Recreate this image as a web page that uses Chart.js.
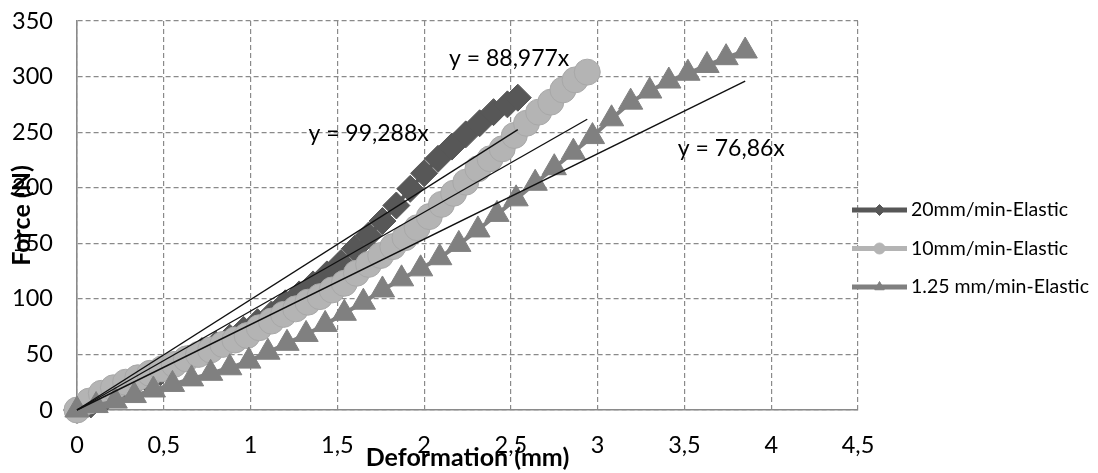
<!DOCTYPE html>
<html>
<head>
<meta charset="utf-8">
<script src="https://cdn.jsdelivr.net/npm/chart.js@4.4.1/dist/chart.umd.min.js"></script>
<style>
  html, body { margin: 0; padding: 0; background: #fff; }
  canvas { display: block; }
</style>
</head>
<body>
<canvas id="chart" width="1098" height="473"></canvas>
<script>
// series names, as in the legend
const seriesNames = ['20mm/min-Elastic', '10mm/min-Elastic', '1.25 mm/min-Elastic'];

// 20mm/min (dark diamonds)
const def20 = [0, 0.08, 0.16, 0.24, 0.32, 0.40, 0.48, 0.56, 0.64, 0.72, 0.80, 0.88, 0.96, 1.04, 1.12, 1.20, 1.28, 1.36, 1.44, 1.52, 1.60, 1.68, 1.76, 1.84, 1.92, 2.00, 2.08, 2.16, 2.24, 2.32, 2.40, 2.48, 2.54];
const force20 = [0, 5, 10, 16, 22, 28, 34, 40, 46, 53, 59, 65, 72, 79, 86, 96, 104, 113, 122, 132, 145, 157, 170, 184, 199, 213, 226, 237, 248, 258, 268, 275, 281];

// 10mm/min (light circles)
const def10 = [0, 0.07, 0.14, 0.21, 0.28, 0.35, 0.42, 0.49, 0.56, 0.63, 0.70, 0.77, 0.84, 0.91, 0.98, 1.05, 1.12, 1.19, 1.26, 1.33, 1.40, 1.47, 1.54, 1.61, 1.68, 1.75, 1.82, 1.89, 1.96, 2.03, 2.10, 2.17, 2.24, 2.31, 2.38, 2.45, 2.52, 2.59, 2.66, 2.73, 2.80, 2.87, 2.94];
const force10 = [0, 8, 15, 20, 25, 29, 33, 37, 41, 46, 50, 54, 59, 63, 67, 74, 80, 86, 91, 97, 102, 108, 114, 123, 131, 139, 147, 155, 164, 174, 185, 195, 205, 217, 226, 235, 247, 258, 268, 277, 288, 297, 304];

// 1.25 mm/min (mid grey triangles)
const def125 = [0, 0.11, 0.22, 0.33, 0.44, 0.55, 0.66, 0.77, 0.88, 0.99, 1.10, 1.21, 1.32, 1.43, 1.54, 1.65, 1.76, 1.87, 1.98, 2.09, 2.20, 2.31, 2.42, 2.53, 2.64, 2.75, 2.86, 2.97, 3.08, 3.19, 3.30, 3.41, 3.52, 3.63, 3.74, 3.85];
const force125 = [0, 4, 8, 13, 18, 23, 28, 33, 38, 44, 52, 60, 68, 77, 87, 97, 108, 118, 127, 137, 149, 162, 176, 190, 204, 218, 232, 246, 262, 277, 287, 296, 303, 310, 317, 323];

// linear trendlines through the origin
const trendSlopes = [99.288, 88.977, 76.86];
const trendLabels = ['y = 99,288x', 'y = 88,977x', 'y = 76,86x'];
const trendLabelX = [1.68, 2.49, 3.77];
const trendLabelY = [249, 316, 235];

// axes
const xTicks = [0, 0.5, 1, 1.5, 2, 2.5, 3, 3.5, 4, 4.5];
const xTickLabels = ['0', '0,5', '1', '1,5', '2', '2,5', '3', '3,5', '4', '4,5'];
const yTicks = [0, 50, 100, 150, 200, 250, 300, 350];

const colors = ['#575757', '#b4b4b4', '#808080'];
const styles = ['rectRot', 'circle', 'triangle'];
const radii = [13.5, 13, 14];

function toPoints(xs, ys) {
    return xs.map((x, i) => ({ x: x, y: ys[i] }));
}

const series = [toPoints(def20, force20), toPoints(def10, force10), toPoints(def125, force125)];

const datasets = [];
series.forEach((pts, i) => {
    datasets.push({
        label: seriesNames[i],
        data: pts,
        showLine: true,
        borderColor: colors[i],
        borderWidth: 4,
        backgroundColor: colors[i],
        pointStyle: styles[i],
        pointRadius: radii[i],
        pointBackgroundColor: colors[i],
        pointBorderColor: i == 1 ? '#a8a8a8' : colors[i],
        pointBorderWidth: 1,
        clip: false,
        order: 3 - i
    });
});
// trendlines on top
series.forEach((pts, i) => {
    const xEnd = pts[pts.length - 1].x;
    datasets.push({
        label: 'trend ' + i,
        data: [{ x: 0, y: 0 }, { x: xEnd, y: trendSlopes[i] * xEnd }],
        showLine: true,
        borderColor: '#111',
        borderWidth: 1.4,
        pointRadius: 0,
        clip: false,
        order: 0
    });
});

// trendline equations and legend
const overlay = {
    id: 'overlay',
    afterDatasetsDraw(chart) {
        const ctx = chart.ctx;
        const xs = chart.scales.x;
        const ys = chart.scales.y;
        ctx.save();
        ctx.fillStyle = '#000';
        ctx.font = '23px Lato';
        ctx.textAlign = 'center';
        ctx.textBaseline = 'middle';
        trendLabels.forEach((t, i) => {
            ctx.fillText(t, xs.getPixelForValue(trendLabelX[i]), ys.getPixelForValue(trendLabelY[i]));
        });

        // legend on the right
        const legendY = [210, 248.5, 287];
        seriesNames.forEach((name, i) => {
            const y = legendY[i];
            ctx.strokeStyle = colors[i];
            ctx.lineWidth = 5;
            ctx.beginPath();
            ctx.moveTo(852, y);
            ctx.lineTo(907, y);
            ctx.stroke();
            ctx.fillStyle = colors[i];
            ctx.strokeStyle = colors[i];
            ctx.lineWidth = 1;
            Chart.helpers.drawPoint(ctx, { pointStyle: styles[i], radius: 5.5, rotation: 0, borderWidth: 1 }, 879.5, y);
            ctx.fillStyle = '#000';
            ctx.font = '19.5px Lato';
            ctx.textAlign = 'left';
            ctx.fillText(name, 911, y);
        });
        ctx.restore();
    }
};

function draw() {
    const ctx = document.getElementById('chart').getContext('2d');
    new Chart(ctx, {
        type: 'scatter',
        data: { datasets: datasets },
        options: {
            responsive: false,
            animation: false,
            layout: { padding: { top: 21, right: 240, left: 0, bottom: 0 } },
            plugins: {
                legend: { display: false },
                tooltip: { enabled: false }
            },
            scales: {
                x: {
                    type: 'linear',
                    min: 0,
                    max: 4.5,
                    afterFit: function (scale) {
                        scale.height = 63;
                        scale.paddingLeft = 0;
                        scale.paddingRight = 0;
                    },
                    afterBuildTicks: function (scale) {
                        scale.ticks = xTicks.map(v => ({ value: v }));
                    },
                    ticks: {
                        color: '#000',
                        font: { size: 23.5 },
                        padding: 21,
                        maxRotation: 0,
                        callback: function (value, index) { return xTickLabels[index]; }
                    },
                    grid: { color: '#8a8a8a', lineWidth: 1.2, drawTicks: false },
                    border: { color: '#8a8a8a', width: 1.6, dash: [5, 3] },
                    title: {
                        display: true,
                        text: 'Deformation (mm)',
                        color: '#000',
                        font: { size: 25, weight: 'bold' },
                        padding: { top: 0, bottom: 0 }
                    }
                },
                y: {
                    type: 'linear',
                    min: 0,
                    max: 350,
                    afterFit: function (scale) {
                        scale.width = 77;
                        scale.paddingTop = 0;
                        scale.paddingBottom = 0;
                    },
                    afterBuildTicks: function (scale) {
                        scale.ticks = yTicks.map(v => ({ value: v }));
                    },
                    ticks: {
                        color: '#000',
                        font: { size: 23.5 },
                        padding: 24
                    },
                    grid: { color: '#8a8a8a', lineWidth: 1.2, drawTicks: false },
                    border: { color: '#8a8a8a', width: 1.6, dash: [5, 3] },
                    title: {
                        display: true,
                        text: 'Force (N)',
                        color: '#000',
                        font: { size: 25, weight: 'bold' },
                        padding: { top: 7, bottom: 0 }
                    }
                }
            }
        },
        plugins: [overlay]
    });
}

Chart.defaults.font.family = 'Lato';
document.fonts.load('23px Lato').then(draw, draw);
</script>
</body>
</html>
